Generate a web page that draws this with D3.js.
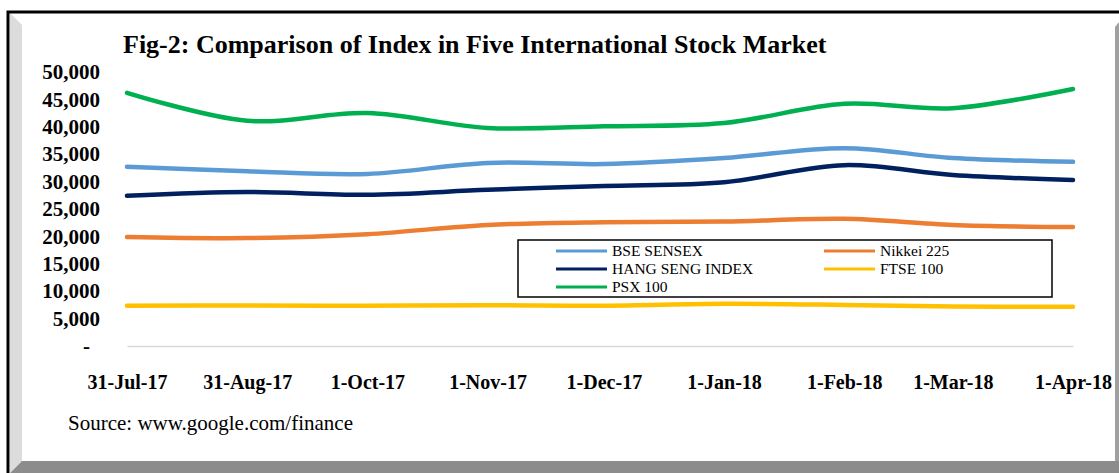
<!DOCTYPE html>
<html>
<head>
<meta charset="utf-8">
<script src="https://cdn.jsdelivr.net/npm/d3@7"></script>
<style>
  body { margin: 0; background: #fff; }
  svg { display: block; font-family: "Liberation Serif", "Times New Roman", serif; }
</style>
</head>
<body>
<script>
// Data (index points, monthly)
const dates = ['2017-07-31', '2017-08-31', '2017-10-01', '2017-11-01', '2017-12-01',
  '2018-01-01', '2018-02-01', '2018-03-01', '2018-04-01']
const bseSensex = [32700, 31900, 31400, 33400, 33200, 34300, 36100, 34300, 33600]
const nikkei225 = [19900, 19700, 20400, 22100, 22600, 22700, 23200, 22100, 21700]
const hangSeng = [27400, 28100, 27600, 28500, 29200, 29900, 33000, 31200, 30300]
const ftse100 = [7350, 7400, 7350, 7450, 7350, 7700, 7500, 7200, 7150]
const psx100 = [46200, 41100, 42500, 39800, 40100, 40700, 44200, 43400, 46900]
const yTicks = [0, 5000, 10000, 15000, 20000, 25000, 30000, 35000, 40000, 45000, 50000]

const series = [
  { name: 'BSE SENSEX', values: bseSensex, color: '#5b9bd5' },
  { name: 'Nikkei 225', values: nikkei225, color: '#ed7d31' },
  { name: 'HANG SENG INDEX', values: hangSeng, color: '#002060' },
  { name: 'FTSE 100', values: ftse100, color: '#ffc000' },
  { name: 'PSX 100', values: psx100, color: '#00b050' }
]

const W = 1119, H = 473
const parse = d3.timeParse('%Y-%m-%d')
const xDates = dates.map(parse)

const svg = d3.select('body').append('svg')
    .attr('width', W)
    .attr('height', H)

// Frame: black border with bevel
svg.append('rect').attr('x', 0).attr('y', 0).attr('width', W).attr('height', H).attr('fill', '#fff')
svg.append('polygon')
    .attr('points', '10,13 22,25 22,461 10,473')
    .attr('fill', '#dcdcdc')
svg.append('polygon')
    .attr('points', '10,473 22,461 1115,461 1119,457 1119,473')
    .attr('fill', '#8c8c8c')
svg.append('polygon')
    .attr('points', '1115,27 1119,22 1119,461 1115,461')
    .attr('fill', '#a0a0a0')
svg.append('path')
    .attr('d', 'M8,473 V12 H1119')
    .attr('fill', 'none')
    .attr('stroke', '#000')
    .attr('stroke-width', 3)

// Scales
const x = d3.scaleTime()
    .domain(d3.extent(xDates))
    .range([127, 1073])
const y = d3.scaleLinear()
    .domain([0, 50000])
    .range([346, 72])

// Title
svg.append('text')
    .attr('x', 123)
    .attr('y', 53)
    .style('font-weight', 'bold')
    .style('font-size', '26px')
    .text('Fig-2: Comparison of Index in Five International Stock Market')

// Y axis
const yAxis = svg.append('g')
    .attr('transform', 'translate(127,0)')
    .call(d3.axisLeft(y)
      .tickValues(yTicks)
      .tickSize(0)
      .tickPadding(27)
      .tickFormat(d => d === 0 ? '-' : d3.format(',')(d)))
yAxis.select('.domain').remove()
yAxis.selectAll('text')
    .style('font-family', '"Liberation Serif", serif')
    .style('font-weight', 'bold')
    .style('font-size', '21px')
    .attr('fill', '#000')
    .attr('dx', d => d === 0 ? -10 : 0)

// X axis
const xAxis = svg.append('g')
    .attr('transform', 'translate(0,346)')
    .call(d3.axisBottom(x)
      .tickValues(xDates)
      .tickSize(0)
      .tickPadding(29)
      .tickFormat(d3.timeFormat('%-d-%b-%y')))
xAxis.select('.domain')
    .attr('stroke', '#d9d9d9')
    .attr('stroke-width', 1.5)
xAxis.selectAll('text')
    .style('font-family', '"Liberation Serif", serif')
    .style('font-weight', 'bold')
    .style('font-size', '20px')
    .attr('fill', '#000')

// Lines
const line = d3.line()
    .x((d, i) => x(xDates[i]))
    .y(d => y(d))
    .curve(d3.curveCatmullRom.alpha(0.5))

svg.selectAll('.series')
  .data(series)
  .enter().append('path')
    .attr('class', 'series')
    .attr('d', d => line(d.values))
    .attr('fill', 'none')
    .attr('stroke', d => d.color)
    .attr('stroke-width', 4.5)
    .attr('stroke-linecap', 'round')

// Legend
const legend = svg.append('g')
svg.append('rect')
    .attr('x', 518).attr('y', 240)
    .attr('width', 534).attr('height', 57)
    .attr('fill', 'none')
    .attr('stroke', '#000')
    .attr('stroke-width', 1.5)

const item = legend.selectAll('.item')
  .data(series)
  .enter().append('g')
    .attr('class', 'item')
    .attr('transform', (d, i) => `translate(${i % 2 === 0 ? 556 : 824}, ${251 + Math.floor(i / 2) * 18})`)
item.append('line')
    .attr('x1', 0).attr('x2', 51)
    .attr('stroke', d => d.color)
    .attr('stroke-width', 3)
item.append('text')
    .attr('x', 56)
    .attr('dy', '0.35em')
    .style('font-size', '15.5px')
    .text(d => d.name)

// Source note
svg.append('text')
    .attr('x', 68)
    .attr('y', 430)
    .style('font-size', '21px')
    .text('Source: www.google.com/finance')
</script>
</body>
</html>
